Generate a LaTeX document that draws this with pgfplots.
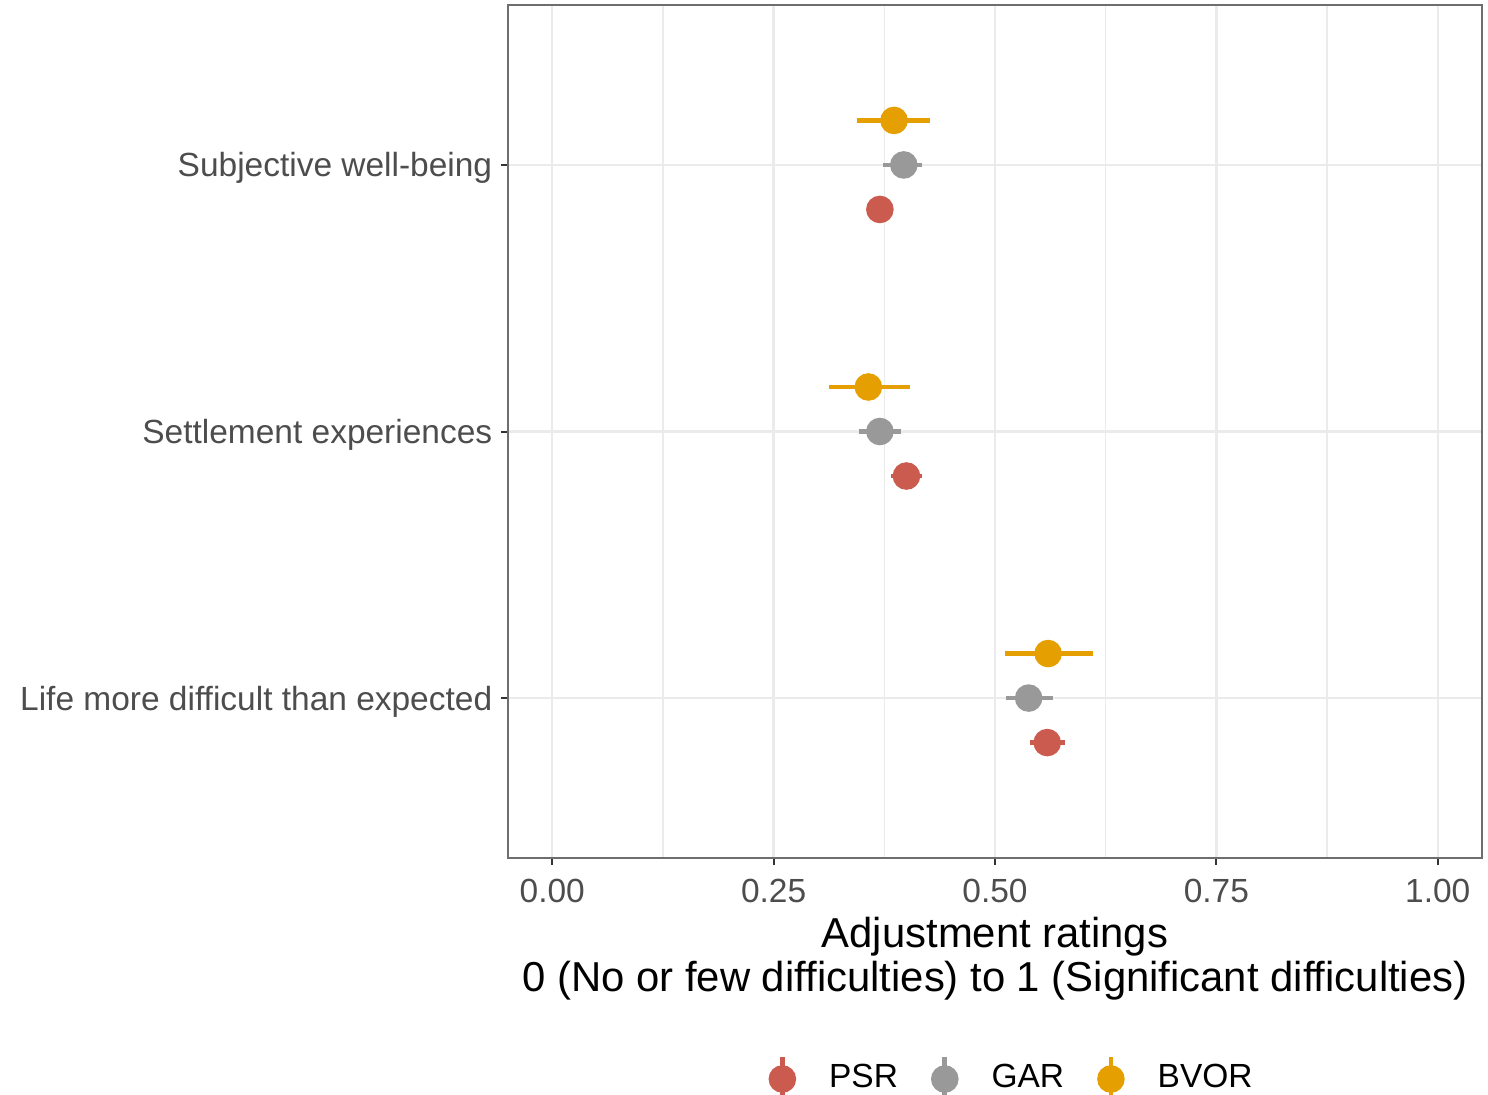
\documentclass[border=0pt]{standalone}
\usepackage{pgfplots}
\pgfplotsset{compat=1.18}
\usepackage{pgfplotstable}
\usepackage{fontspec}
\setmainfont{Liberation Sans}
\definecolor{psr}{HTML}{CB5A4F}
\definecolor{gar}{HTML}{999999}
\definecolor{bvor}{HTML}{E69F00}
\definecolor{gridc}{HTML}{EBEBEB}
\definecolor{framec}{HTML}{6E6E6E}
\definecolor{tickc}{HTML}{333333}
\definecolor{labc}{HTML}{4D4D4D}

% y: 1 = Life more difficult, 2 = Settlement, 3 = Subjective well-being
\pgfplotstableread{
y      x      ep     em
0.833  0.559  0.020  0.019
1.833  0.400  0.017  0.018
2.833  0.370  0.012  0.013
}\psrdata
\pgfplotstableread{
y      x      ep     em
1.000  0.538  0.027  0.026
2.000  0.370  0.024  0.024
3.000  0.397  0.021  0.023
}\gardata
\pgfplotstableread{
y      x      ep     em
1.167  0.560  0.051  0.049
2.167  0.357  0.047  0.044
3.167  0.386  0.041  0.042
}\bvordata

\begin{document}
\begin{tikzpicture}
\begin{axis}[
  scale only axis,
  width=243.5bp, height=213.25bp,
  xmin=-0.05, xmax=1.05,
  ymin=0.4, ymax=3.6,
  xtick={0,0.25,0.5,0.75,1},
  xticklabels={0.00,0.25,0.50,0.75,1.00},
  minor xtick={0.125,0.375,0.625,0.875},
  ytick={1,2,3},
  yticklabels={Life more difficult than expected,Settlement experiences,Subjective well-being},
  xmajorgrids, ymajorgrids, xminorgrids,
  major grid style={draw=gridc, line width=0.6bp},
  minor grid style={draw=gridc, line width=0.3bp},
  axis line style={draw=framec, line width=0.5bp},
  tick align=outside,
  major tick length=1.75bp,
  minor tick length=0pt,
  tick style={draw=tickc, line width=0.5bp},
  xtick pos=bottom, ytick pos=left,
  /pgf/number format/assume math mode=true,
  ticklabel style={font=\fontsize{8.4}{10}\selectfont, text=labc},
  xticklabel style={inner sep=0pt, anchor=north, yshift=-3.4bp},
  yticklabel style={inner sep=0pt, anchor=base east, xshift=-2bp, yshift=-3bp},
  xlabel={Adjustment ratings\\0 (No or few difficulties) to 1 (Significant difficulties)},
  xlabel style={at={(rel axis cs:0.5,0)}, anchor=north, yshift=-14.5bp, inner sep=0pt,
    align=center, font=\fontsize{10.5}{11.25}\selectfont},
  legend columns=3,
  legend style={at={(axis description cs:0.516,-0.2591)}, anchor=center,
    draw=none, fill=none, font=\fontsize{8.4}{10}\selectfont,
    nodes={inner sep=0pt},
    /tikz/every odd column/.append style={column sep=8.25bp},
    /tikz/every even column/.append style={column sep=8.25bp}},
  clip=false,
]
\addplot[only marks, mark=*, mark size=3.25bp, color=psr,
  error bars/.cd, x dir=both, x explicit, error mark=none,
  error bar style={line width=1.2bp, color=psr}]
  table[x=x, y=y, x error plus=ep, x error minus=em] {\psrdata};
\addplot[only marks, mark=*, mark size=3.25bp, color=gar,
  error bars/.cd, x dir=both, x explicit, error mark=none,
  error bar style={line width=1.2bp, color=gar}]
  table[x=x, y=y, x error plus=ep, x error minus=em] {\gardata};
\addplot[only marks, mark=*, mark size=3.25bp, color=bvor,
  error bars/.cd, x dir=both, x explicit, error mark=none,
  error bar style={line width=1.2bp, color=bvor}]
  table[x=x, y=y, x error plus=ep, x error minus=em] {\bvordata};

\addlegendimage{legend image code/.code={\draw[psr, line width=1.2bp] (0bp,-5.5bp)--(0bp,5.5bp); \fill[psr] (0bp,0bp) circle (3.25bp);}}
\addlegendimage{legend image code/.code={\draw[gar, line width=1.2bp] (0bp,-5.5bp)--(0bp,5.5bp); \fill[gar] (0bp,0bp) circle (3.25bp);}}
\addlegendimage{legend image code/.code={\draw[bvor, line width=1.2bp] (0bp,-5.5bp)--(0bp,5.5bp); \fill[bvor] (0bp,0bp) circle (3.25bp);}}
\legend{,,,PSR,GAR,BVOR}
\end{axis}
\pgfresetboundingbox
\path (current axis.south west) ++(-127bp,-59.25bp) rectangle ++(372bp,273.75bp);
\end{tikzpicture}
\end{document}
